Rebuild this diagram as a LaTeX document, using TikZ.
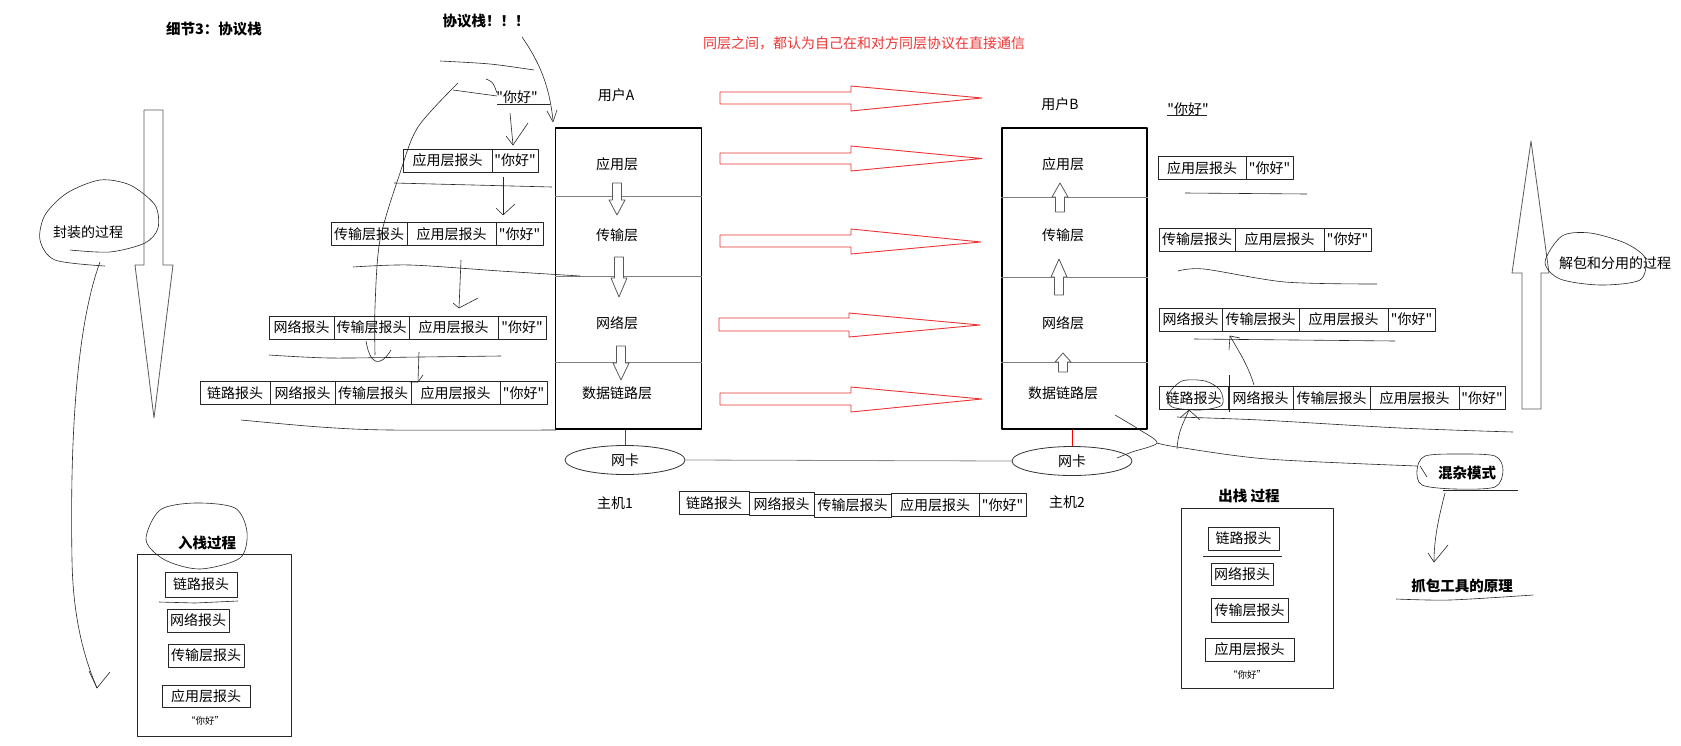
\documentclass[tikz,border=0pt]{standalone}
\usepackage{fontspec}
\newfontfamily\heiti{Noto Sans CJK SC}
\usetikzlibrary{arrows.meta,calc,shapes.geometric}
\definecolor{peerred}{RGB}{236,52,52}

\begin{document}
\begin{tikzpicture}[
  x=1pt, y=-1pt,
  font=\heiti\fontsize{14}{16}\selectfont,
  line join=round,
  hdr/.style={draw=black!85, line width=0.8pt, inner sep=0pt, minimum height=23},
  stackbox/.style={draw, line width=1.1pt, minimum width=146, minimum height=301, inner sep=0pt},
  procbox/.style={draw=black!85, line width=0.9pt, inner sep=0pt},
  divider/.style={black!50, line width=0.8pt},
  nic/.style={draw=black!80, ellipse, line width=0.8pt, minimum width=120, minimum height=29, inner sep=0pt},
  ttl/.style={font=\heiti\fontsize{14.5}{16}\selectfont\bfseries},
  small/.style={font=\heiti\fontsize{9.5}{11}\selectfont},
  ink/.style={black!85, line width=0.6pt},
  hollow/.style={draw=black!65, fill=white, line width=0.8pt},
  peer/.style={draw=peerred, line width=0.9pt},
]
  \useasboundingbox (0,0) rectangle (1681,745);

  % titles
  \node[ttl] (title) at (214,29) {细节3：协议栈};
  \node[ttl] (stacknote) at (486,21) {协议栈！！！};
  \node[text=peerred] (peernote) at (864,43) {同层之间，都认为自己在和对方同层协议在直接通信};

  % the two protocol stacks
  \node[stackbox] (stackA) at (628.5,278.5) {};
  \node[stackbox, minimum width=145] (stackB) at (1074.5,278.5) {};
  \draw[divider] (stackA.west |- 0,196) -- (stackA.east |- 0,196);
  \draw[divider] (stackA.west |- 0,276) -- (stackA.east |- 0,276);
  \draw[divider] (stackA.west |- 0,362) -- (stackA.east |- 0,362);
  \draw[divider] (stackB.west |- 0,197) -- (stackB.east |- 0,197);
  \draw[divider] (stackB.west |- 0,277) -- (stackB.east |- 0,277);
  \draw[divider] (stackB.west |- 0,362) -- (stackB.east |- 0,362);

  \node (userA) at (616,95) {用户A};
  \node (userB) at (1060,104) {用户B};
  \node (appA) at (617,164) {应用层};
  \node (tptA) at (617,235) {传输层};
  \node (netA) at (617,323) {网络层};
  \node (dlA) at (617,393) {数据链路层};
  \node (appB) at (1063,164) {应用层};
  \node (tptB) at (1063,235) {传输层};
  \node (netB) at (1063,323) {网络层};
  \node (dlB) at (1063,393) {数据链路层};

  % hollow arrows inside the stacks
  \draw[hollow] (612.5,183) -- (621.5,183) -- (621.5,200) -- (625,200) -- (617,215) -- (609,200) -- (612.5,200) -- cycle;
  \draw[hollow] (614.5,257) -- (623.5,257) -- (623.5,278) -- (627,278) -- (619,297) -- (611,278) -- (614.5,278) -- cycle;
  \draw[hollow] (616.5,346) -- (625.5,346) -- (625.5,363) -- (629,363) -- (621,380) -- (613,363) -- (616.5,363) -- cycle;
  \draw[hollow] (1055.5,212) -- (1064.5,212) -- (1064.5,197) -- (1068,197) -- (1060,183) -- (1052,197) -- (1055.5,197) -- cycle;
  \draw[hollow] (1054.5,295) -- (1063.5,295) -- (1063.5,277) -- (1067,277) -- (1059,259) -- (1051,277) -- (1054.5,277) -- cycle;
  \draw[hollow] (1058.5,372) -- (1067.5,372) -- (1067.5,362) -- (1071,362) -- (1063,353) -- (1055,362) -- (1058.5,362) -- cycle;

  % peer arrows
  \draw[peer] (720,92) -- (851,92) -- (851,86) -- (982,98) -- (851,111) -- (851,104) -- (720,104) -- cycle;
  \draw[peer] (720,153) -- (851,153) -- (851,146) -- (982,158.5) -- (851,171) -- (851,164) -- (720,164) -- cycle;
  \draw[peer] (720,235) -- (851,235) -- (851,229) -- (981,242) -- (851,254) -- (851,247) -- (720,247) -- cycle;
  \draw[peer] (719,318) -- (849,318) -- (849,313) -- (980,325) -- (849,337) -- (849,331) -- (719,331) -- cycle;
  \draw[peer] (720,393) -- (851,393) -- (851,387) -- (982,399) -- (851,412) -- (851,405) -- (720,405) -- cycle;

  % network cards
  \node[nic] (nicA) at (625,460) {网卡};
  \node[nic] (nicB) at (1072,461) {网卡};
  \draw[red, line width=0.8pt] (nicA.north |- stackA.south) -- (nicA.north);
  \draw[red, line width=0.8pt] (nicB.north |- stackB.south) -- (nicB.north);
  \draw[black!45, line width=0.8pt] (nicA.east) -- (nicB.west);
  \node (hostA) at (615,503) {主机1};
  \node (hostB) at (1067,502) {主机2};

  % frame on the wire
  \node[hdr, minimum width=70] (wdl) at (714,503) {链路报头};
  \node[hdr, minimum width=65] (wnet) at (781.5,504) {网络报头};
  \node[hdr, minimum width=77] (wtpt) at (852.5,505.5) {传输层报头};
  \node[hdr, minimum width=88] (wapp) at (935,505) {应用层报头};
  \node[hdr, minimum width=47] (wmsg) at (1002.5,505) {"你好"};

  % encapsulation (left)
  \node (msgL) at (517,97) {"你好"};
  \node[hdr, minimum width=89] (l1app) at (447.5,160.5) {应用层报头};
  \node[hdr, minimum width=46] (l1msg) at (515,160.5) {"你好"};
  \node[hdr, minimum width=76] (l2tpt) at (369,234) {传输层报头};
  \node[hdr, minimum width=89] (l2app) at (451.5,234) {应用层报头};
  \node[hdr, minimum width=47] (l2msg) at (519.5,234) {"你好"};
  \node[hdr, minimum width=65] (l3net) at (301.5,327.5) {网络报头};
  \node[hdr, minimum width=75] (l3tpt) at (371.5,327.5) {传输层报头};
  \node[hdr, minimum width=89] (l3app) at (453.5,327.5) {应用层报头};
  \node[hdr, minimum width=48] (l3msg) at (522,327.5) {"你好"};
  \node[hdr, minimum width=70] (l4dl) at (235,393) {链路报头};
  \node[hdr, minimum width=65] (l4net) at (302.5,393) {网络报头};
  \node[hdr, minimum width=76] (l4tpt) at (373,393) {传输层报头};
  \node[hdr, minimum width=89] (l4app) at (455.5,393) {应用层报头};
  \node[hdr, minimum width=47] (l4msg) at (523.5,393) {"你好"};

  % decapsulation (right)
  \node (msgR) at (1188,109) {"你好"};
  \node[hdr, minimum width=88] (r1app) at (1202,168) {应用层报头};
  \node[hdr, minimum width=47] (r1msg) at (1269.5,168) {"你好"};
  \node[hdr, minimum width=76] (r2tpt) at (1197,239.5) {传输层报头};
  \node[hdr, minimum width=89] (r2app) at (1279.5,239.5) {应用层报头};
  \node[hdr, minimum width=47] (r2msg) at (1347.5,239.5) {"你好"};
  \node[hdr, minimum width=63] (r3net) at (1190.5,319.5) {网络报头};
  \node[hdr, minimum width=77] (r3tpt) at (1260.5,319.5) {传输层报头};
  \node[hdr, minimum width=89] (r3app) at (1343.5,319.5) {应用层报头};
  \node[hdr, minimum width=47] (r3msg) at (1411.5,319.5) {"你好"};
  \node[hdr, minimum width=69] (r4dl) at (1193.5,398) {链路报头};
  \node[hdr, minimum width=65] (r4net) at (1260.5,398) {网络报头};
  \node[hdr, minimum width=77] (r4tpt) at (1331.5,398) {传输层报头};
  \node[hdr, minimum width=89] (r4app) at (1414.5,398) {应用层报头};
  \node[hdr, minimum width=46] (r4msg) at (1482,398) {"你好"};

  % big process arrows
  \draw[hollow] (144,110) -- (163,110) -- (163,265) -- (173,265) -- (154,418) -- (135,265) -- (144,265) -- cycle;
  \draw[hollow] (1522,409) -- (1541,409) -- (1541,273) -- (1549,273) -- (1531,141) -- (1512,273) -- (1522,273) -- cycle;
  \node (encap) at (88,232) {封装的过程};
  \node (decap) at (1615,263) {解包和分用的过程};

  % push / pop boxes
  \node[procbox, minimum width=154, minimum height=182] (pushbox) at (214,645) {};
  \node[ttl] (pushttl) at (207,543) {入栈过程};
  \node[hdr, minimum width=72, minimum height=25] (pdl) at (201,584.5) {链路报头};
  \node[hdr, minimum width=62] (pnet) at (198,620.5) {网络报头};
  \node[hdr, minimum width=76] (ptpt) at (206,655.5) {传输层报头};
  \node[hdr, minimum width=88, minimum height=22] (papp) at (206,696) {应用层报头};
  \node[small] (pmsg) at (205,721) {“你好”};

  \node[procbox, minimum width=152, minimum height=180] (popbox) at (1257,598) {};
  \node[ttl] (popttl) at (1249,496) {出栈 过程};
  \node[hdr, minimum width=71] (qdl) at (1243.5,538.5) {链路报头};
  \node[hdr, minimum width=62, minimum height=22] (qnet) at (1242,574) {网络报头};
  \node[hdr, minimum width=77, minimum height=24] (qtpt) at (1249.5,610) {传输层报头};
  \node[hdr, minimum width=89] (qapp) at (1249.5,649.5) {应用层报头};
  \node[small] (qmsg) at (1247,675) {“你好”};

  \node[ttl] (promisc) at (1467,473) {混杂模式};
  \node[ttl] (sniffer) at (1462,586) {抓包工具的原理};

  % hand-drawn marks
  \draw[ink] plot[smooth] coordinates {(105,266) (55,260) (40,240) (45,215) (67,193) (100,180) (130,185) (155,205) (158,228) (145,243) (110,252) (70,250)};
  \draw[ink] (100,262) .. controls (75,330) and (70,450) .. (72,560) .. controls (73,620) and (85,660) .. (97,688);
  \draw[ink] (89,671) -- (97,688) -- (110,672);
  \draw[ink] plot[smooth cycle] coordinates {(146,540) (160,510) (195,503) (235,508) (247,532) (240,558) (200,569) (165,560)};
  \draw[ink] plot[smooth cycle] coordinates {(1545,262) (1562,236) (1590,233) (1625,243) (1645,258) (1640,280) (1600,285) (1560,279)};
  \draw[ink] plot[smooth cycle] coordinates {(1417,470) (1425,456) (1460,454) (1495,456) (1503,470) (1495,487) (1455,489) (1422,485)};
  \draw[ink] plot[smooth cycle] coordinates {(1168,395) (1182,381) (1205,381) (1220,390) (1222,405) (1200,410) (1172,407)};

  \draw[ink] plot[smooth] coordinates {(440,61) (490,64) (534,70)};
  \draw[ink] (453,90) -- (497,96);
  \draw[ink] (486,79) .. controls (493,82) .. (497,93);
  \draw[ink] (497,104) -- (550,104);
  \draw[ink] (522,37) .. controls (545,70) and (550,95) .. (553,120);
  \draw[ink] (547,111) -- (553,122) -- (557,110);
  \draw[ink] plot[smooth] coordinates {(458,83) (418,127) (400,173) (380,240) (375,307) (375,355)};
  \draw[ink] (366,341) .. controls (370,365) and (380,368) .. (391,350);
  \draw[ink] (510,113) -- (513,145);
  \draw[ink] (506,136) -- (513,145) -- (528,123);
  \draw[ink] (394,183) -- (552,187);
  \draw[ink] (503,177) -- (503,215);
  \draw[ink] (496,208) -- (503,215) -- (515,204);
  \draw[ink] plot[smooth] coordinates {(353,267) (410,265) (500,271) (580,276)};
  \draw[ink] (461,260) -- (459,308);
  \draw[ink] (453,303) -- (459,308) -- (478,298);
  \draw[ink] plot[smooth] coordinates {(269,355) (330,358) (420,357) (501,356)};
  \draw[ink] (419,352) -- (418,382);
  \draw[ink] (410,382) -- (418,382) -- (423,375);
  \draw[ink] plot[smooth] coordinates {(241,420) (320,427) (390,430) (556,430)};
  \draw[ink] (159,602) -- (195,603) -- (238,601);

  \draw[ink] (1167,115) -- (1207,115);
  \draw[ink] (1185,193) -- (1307,194);
  \draw[ink] plot[smooth] coordinates {(1178,271) (1204,269) (1285,282) (1377,284)};
  \draw[ink] (1194,339) -- (1395,341);
  \draw[ink] (1254,385) .. controls (1248,365) and (1238,350) .. (1230,336);
  \draw[ink] (1240,338) -- (1230,336) -- (1229,350);
  \draw[ink] (1229,375) -- (1229,412);
  \draw[ink] plot[smooth] coordinates {(1177,417) (1260,420) (1400,428) (1513,432)};
  \draw[ink] (1177,449) .. controls (1178,430) and (1185,420) .. (1189,410);
  \draw[ink] (1180,418) -- (1189,410) -- (1200,420);
  \draw[ink] plot[smooth] coordinates {(1115,415) (1140,430) (1157,443) (1132,452) (1117,458)};
  \draw[ink] plot[smooth] coordinates {(1157,443) (1177,447) (1267,459) (1417,466)};
  \draw[ink] (1420,466) -- (1427,477);
  \draw[ink] (1443,490) -- (1518,490);
  \draw[ink] (1445,493) .. controls (1438,520) and (1434,540) .. (1434,562);
  \draw[ink] (1428,553) -- (1434,562) -- (1448,545);
  \draw[ink] plot[smooth] coordinates {(1396,599) (1450,600) (1533,595)};
  \draw[ink] (1203,556) -- (1282,556);
\end{tikzpicture}
\end{document}
